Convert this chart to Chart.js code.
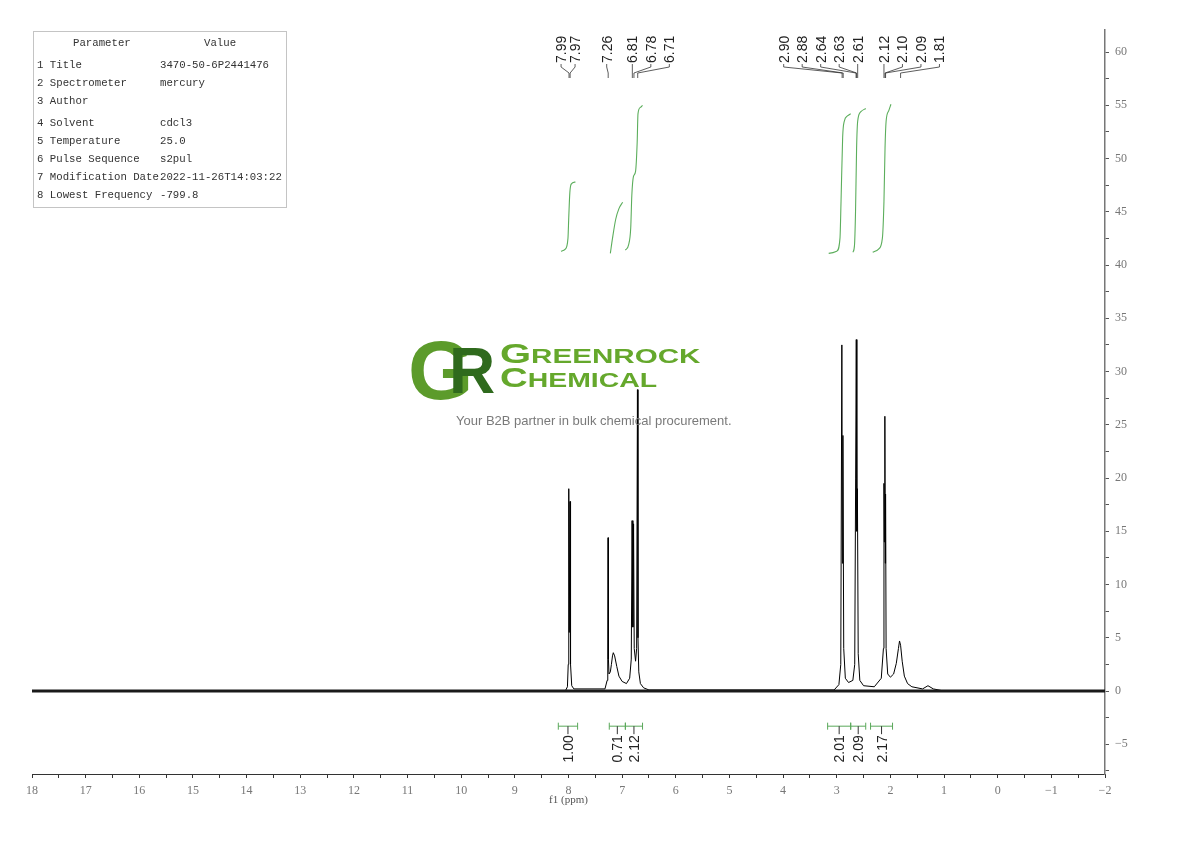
<!DOCTYPE html>
<html>
<head>
<meta charset="utf-8">
<script src="https://cdn.jsdelivr.net/npm/chart.js@4/dist/chart.umd.min.js"></script>
<style>
  body { margin: 0; background: #fff; }
  #wrap { position: relative; width: 1190px; height: 841px; }
  #c { position: absolute; left: 0; top: 0; }
  .tbl { position: absolute; left: 33px; top: 31px; width: 252px; height: 175px; border: 1px solid #c4c4c4;
         font-family: "Liberation Mono", monospace; font-size: 10.7px; color: #333; }
  .tbl div { position: absolute; white-space: pre; }
  .logo { position: absolute; left: 0; top: 0; pointer-events: none; }
  .logo div { position: absolute; white-space: pre; }
</style>
</head>
<body>
<div id="wrap">
  <canvas id="c" width="1190" height="841"></canvas>
  <div class="tbl" id="tbl"></div>
  <div class="logo">
    <div style="left:408px;top:322px;font:bold 84px 'Liberation Sans';color:#5c9b2b;">G</div>
    <div style="left:449px;top:334px;font:bold 64px 'Liberation Sans';color:#2f6a1d;">R</div>
    <div style="left:500px;top:339px;font:bold 20px 'Liberation Sans';color:#65a82c;transform:scaleX(1.48);transform-origin:left;"><span style="font-size:27px">G</span>REENROCK</div>
    <div style="left:500px;top:363px;font:bold 20px 'Liberation Sans';color:#65a82c;transform:scaleX(1.42);transform-origin:left;"><span style="font-size:27px">C</span>HEMICAL</div>
    <div style="left:456px;top:413px;font:13px 'Liberation Sans';color:#7a7a7a;">Your B2B partner in bulk chemical procurement.</div>
  </div>
</div>
<script>
// parameter table
const paramNames = ['1 Title', '2 Spectrometer', '3 Author', '4 Solvent', '5 Temperature', '6 Pulse Sequence', '7 Modification Date', '8 Lowest Frequency'];
const paramValues = ['3470-50-6P2441476', 'mercury', '', 'cdcl3', '25.0', 's2pul', '2022-11-26T14:03:22', '-799.8'];

// 1H spectrum (ppm, intensity)
const specPpm = [18, 8.06, 8.02, 8.005, 7.995, 7.986, 7.979, 7.972, 7.962, 7.94, 7.9,
  7.32, 7.28, 7.268, 7.262, 7.256, 7.245, 7.22, 7.2, 7.18, 7.165, 7.14, 7.1, 7.06, 7.0, 6.92,
  6.86, 6.83, 6.815, 6.80, 6.787, 6.775, 6.75, 6.73, 6.715, 6.705, 6.69, 6.66, 6.6, 6.5,
  3.05, 2.96, 2.925, 2.905, 2.895, 2.885, 2.87, 2.84, 2.78, 2.7, 2.665, 2.648, 2.636, 2.625, 2.615, 2.6, 2.57, 2.5,
  2.3, 2.17, 2.13, 2.12, 2.113, 2.103, 2.096, 2.09, 2.08, 2.05, 2.0, 1.94, 1.89, 1.85, 1.83, 1.81, 1.78, 1.74, 1.68,
  1.6, 1.4, 1.3, 1.2, 1.0, -2];
const specInt = [0, 0, 0.4, 2.5, 19.0, 5.5, 5.5, 17.8, 2.5, 0.5, 0.2,
  0.2, 1.0, 3, 14.4, 3, 1.6, 1.8, 2.5, 3.3, 3.6, 3.3, 2.3, 1.4, 0.9, 0.7,
  1.2, 3.0, 16.0, 6.0, 15.7, 4.0, 2.8, 4.0, 28.3, 5, 1.8, 0.7, 0.3, 0.1,
  0.1, 0.6, 2.5, 32.5, 12, 24, 4, 1.2, 0.8, 1.0, 2.5, 20, 33.0, 15, 19, 3.5, 1.0, 0.5,
  0.4, 1.2, 4, 19.5, 14, 25.8, 12, 18.5, 4, 1.6, 1.3, 1.6, 2.6, 4.0, 4.7, 4.3, 2.8, 1.4, 0.7,
  0.4, 0.2, 0.5, 0.2, 0, 0];

// integral curves (ppm, value on the same axis)
const integralCurves = [
  [[8.14, 41.3], [8.06, 41.5], [8.01, 42.5], [7.995, 44.5], [7.975, 46.8], [7.95, 47.6], [7.87, 47.8]],
  [[7.22, 41.1], [7.18, 42.5], [7.12, 44.3], [7.06, 45.3], [6.99, 45.9]],
  [[6.94, 41.4], [6.88, 41.9], [6.84, 43.5], [6.82, 46.5], [6.79, 48.3], [6.75, 48.8], [6.72, 51.5], [6.705, 54.2], [6.66, 54.8], [6.62, 55.0]],
  [[3.15, 41.1], [3.0, 41.3], [2.94, 42.5], [2.92, 46], [2.89, 52], [2.86, 53.5], [2.8, 54.0], [2.74, 54.2]],
  [[2.70, 41.2], [2.67, 41.8], [2.65, 45], [2.63, 51], [2.61, 53.5], [2.55, 54.4], [2.46, 54.7]],
  [[2.33, 41.2], [2.22, 41.5], [2.15, 42.5], [2.12, 46], [2.10, 51], [2.08, 53.5], [2.03, 54.5], [1.99, 55.1]]
];

// integration ranges and values
const intFrom = [8.19, 7.24, 6.94, 3.17, 2.74, 2.37];
const intTo = [7.83, 6.94, 6.62, 2.74, 2.46, 1.96];
const intValues = ['1.00', '0.71', '2.12', '2.01', '2.09', '2.17'];

// peak picking groups
const peakGroups = [[7.99, 7.97], [7.26], [6.81, 6.78, 6.71], [2.90, 2.88, 2.64, 2.63, 2.61], [2.12, 2.10, 2.09, 1.81]];

// axis ranges
const xMin = -2, xMax = 18;
const yMin = -7.79, yMax = 62.07;

const tbl = document.getElementById('tbl');
function cell(txt, left, top) {
  const d = document.createElement('div');
  d.textContent = txt; d.style.left = left + 'px'; d.style.top = top + 'px';
  tbl.appendChild(d);
}
cell('Parameter', 39, 5);
cell('Value', 170, 5);
const rowTops = [27, 45, 63, 85, 103, 121, 139, 157];
paramNames.forEach((n, i) => {
  cell(n, 3, rowTops[i]);
  cell(paramValues[i], 126, rowTops[i]);
});

const minus = v => (v < 0 ? '\u2212' + Math.abs(v) : '' + v);

const annot = {
  id: 'annot',
  afterDraw(chart) {
    const ctx = chart.ctx, xs = chart.scales.x, ys = chart.scales.y;
    ctx.save();
    // peak labels
    const layout = [{ a: 'center', g: 14 }, { a: 'center', g: 18.5 }, { a: 'left', g: 18.5 }, { a: 'right', g: 18.5 }, { a: 'left', g: 18.5 }];
    ctx.font = '14px "Liberation Sans"';
    ctx.fillStyle = '#222';
    ctx.strokeStyle = '#333';
    ctx.lineWidth = 0.8;
    peakGroups.forEach((grp, gi) => {
      const px = grp.map(p => xs.getPixelForValue(p));
      const L = layout[gi];
      let lx;
      if (L.a === 'center') {
        const c = px.reduce((s, v) => s + v, 0) / px.length - 1.5;
        lx = grp.map((p, i) => c + (i - (grp.length - 1) / 2) * L.g);
      } else if (L.a === 'left') {
        lx = grp.map((p, i) => px[0] + i * L.g);
      } else {
        lx = grp.map((p, i) => px[px.length - 1] - (grp.length - 1 - i) * L.g);
      }
      grp.forEach((p, i) => {
        ctx.save();
        ctx.translate(lx[i] + 5, 63);
        ctx.rotate(-Math.PI / 2);
        ctx.textAlign = 'left';
        ctx.textBaseline = 'alphabetic';
        ctx.fillText(p.toFixed(2), 0, 0);
        ctx.restore();
        ctx.beginPath();
        ctx.moveTo(lx[i], 64);
        ctx.lineTo(lx[i], 67);
        ctx.lineTo(px[i], 73);
        ctx.lineTo(px[i], 78);
        ctx.stroke();
      });
    });
    // integration brackets
    const yb = ys.getPixelForValue(-3.3);
    intFrom.forEach((f, i) => {
      const x1 = xs.getPixelForValue(f), x2 = xs.getPixelForValue(intTo[i]);
      const cx = (x1 + x2) / 2;
      ctx.strokeStyle = '#5aa85a';
      ctx.lineWidth = 1;
      ctx.beginPath();
      ctx.moveTo(x1, yb); ctx.lineTo(x2, yb);
      ctx.moveTo(x1, yb - 3.5); ctx.lineTo(x1, yb + 3.5);
      ctx.moveTo(x2, yb - 3.5); ctx.lineTo(x2, yb + 3.5);
      ctx.stroke();
      ctx.strokeStyle = '#333';
      ctx.beginPath();
      ctx.moveTo(cx, yb); ctx.lineTo(cx, yb + 8);
      ctx.stroke();
      ctx.save();
      ctx.translate(cx + 5, yb + 9);
      ctx.rotate(-Math.PI / 2);
      ctx.textAlign = 'right';
      ctx.fillStyle = '#222';
      ctx.font = '14px "Liberation Sans"';
      ctx.fillText(intValues[i], 0, 0);
      ctx.restore();
    });
    ctx.restore();
  }
};

const datasets = [
  {
    data: [{ x: xMax, y: 0 }, { x: xMin, y: 0 }],
    borderColor: '#1a1a1a', borderWidth: 3
  },
  {
    data: specPpm.map((p, i) => ({ x: p, y: specInt[i] })),
    borderColor: '#000', borderWidth: 1
  }
].concat(integralCurves.map(c => ({
  data: c.map(pt => ({ x: pt[0], y: pt[1] })),
  borderColor: '#5cae5c', borderWidth: 1.1, cubicInterpolationMode: 'monotone'
})));

new Chart(document.getElementById('c').getContext('2d'), {
  type: 'scatter',
  data: { datasets: datasets.map(d => Object.assign({ showLine: true, pointRadius: 0, fill: false }, d)) },
  options: {
    responsive: false,
    animation: false,
    layout: { padding: { left: 32, top: 30, right: 0, bottom: 34 } },
    plugins: { legend: { display: false }, tooltip: { enabled: false } },
    scales: {
      x: {
        type: 'linear', reverse: true, min: xMin, max: xMax,
        afterFit: s => { s.height = 33; },
        border: { display: true, color: '#333', width: 1 },
        grid: { drawOnChartArea: false, tickLength: 4, color: '#333' },
        ticks: {
          stepSize: 0.5, autoSkip: false, maxRotation: 0, padding: 6,
          color: '#777', font: { family: 'Liberation Serif', size: 12 },
          callback: v => (Number.isInteger(v) ? minus(v) : '')
        },
        title: { display: true, text: 'f1 (ppm)', color: '#555', font: { family: 'Liberation Serif', size: 11 }, padding: { top: 0, bottom: 0 } }
      },
      y: {
        type: 'linear', position: 'right', min: yMin, max: yMax,
        afterFit: s => { s.width = 85; },
        border: { display: true, color: '#777', width: 1.5 },
        grid: { drawOnChartArea: false, tickLength: 4, color: '#555' },
        ticks: {
          stepSize: 2.5, includeBounds: false, autoSkip: false, padding: 6,
          color: '#777', font: { family: 'Liberation Serif', size: 12 },
          callback: v => (v % 5 === 0 ? minus(v) : '')
        }
      }
    }
  },
  plugins: [annot]
});
</script>
</body>
</html>
